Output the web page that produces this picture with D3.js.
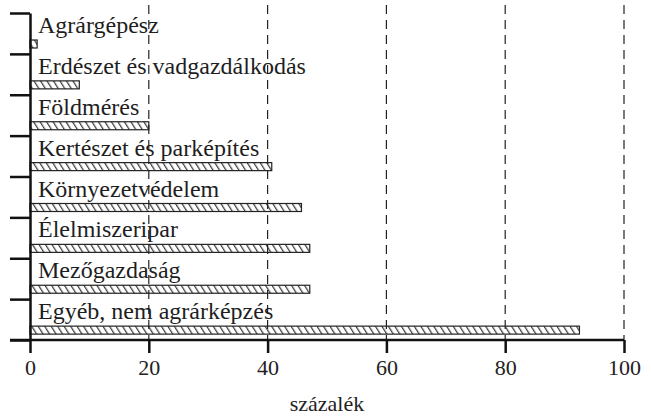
<!DOCTYPE html>
<html>
<head>
<meta charset="utf-8">
<script src="https://cdn.jsdelivr.net/npm/d3@7"></script>
<style>
  body { margin: 0; background: #fff; }
  .axis path, .axis line { stroke: #111; stroke-width: 2.5; }
</style>
</head>
<body>
<div id="chart"></div>
<script>
"use strict";

// Categories, top to bottom
const categories = ['Agrárgépész', 'Erdészet és vadgazdálkodás', 'Földmérés',
    'Kertészet és parképítés', 'Környezetvédelem', 'Élelmiszeripar',
    'Mezőgazdaság', 'Egyéb, nem agrárképzés'];
const values = [1.2, 8.3, 20, 40.7, 45.7, 47.1, 47.1, 92.5];  // százalék
const xTicks = [0, 20, 40, 60, 80, 100];
const xTitle = 'százalék';

const FONT = '"Liberation Serif", "Times New Roman", Times, "DejaVu Serif", serif';
const width = 651, height = 416;
const margin = {left: 30, right: 27, top: 13, bottom: 76};
const plotW = width - margin.left - margin.right;
const plotBottom = height - margin.bottom;

let svg = d3.select('#chart').append('svg')
    .attr('width', width)
    .attr('height', height)
    .style('display', 'block');

// Hatch pattern for the bars ("\\\\" lines)
svg.append('defs').append('pattern')
    .attr('id', 'hatch')
    .attr('patternUnits', 'userSpaceOnUse')
    .attr('width', 5.5)
    .attr('height', 10)
    .attr('patternTransform', 'rotate(-32)')
  .append('line')
    .attr('x1', 2.5).attr('y1', 0)
    .attr('x2', 2.5).attr('y2', 10)
    .attr('stroke', '#222')
    .attr('stroke-width', 1.1);

let x = d3.scaleLinear()
    .domain([0, 100])
    .range([margin.left, margin.left + plotW]);
let y = d3.scaleBand()
    .domain(categories)
    .range([margin.top, plotBottom])
    .paddingInner(0);
// Boundaries between bands, for the left tick marks
let yEdge = d3.scaleLinear()
    .domain([0, categories.length])
    .range([margin.top, plotBottom]);

// Dashed gridlines
svg.append('g').selectAll('line')
    .data(xTicks.filter(function (t) { return t > 0; }))
    .enter().append('line')
    .attr('x1', function (d) { return x(d); })
    .attr('x2', function (d) { return x(d); })
    .attr('y1', 5)
    .attr('y2', plotBottom)
    .attr('stroke', '#222')
    .attr('stroke-width', 1.2)
    .attr('stroke-dasharray', '9,6');

// Category labels above the bars
svg.append('g').selectAll('text')
    .data(categories)
    .enter().append('text')
    .attr('x', margin.left + 8)
    .attr('y', function (d) { return y(d) + 20; })
    .style('font-family', FONT)
    .style('font-size', '24px')
    .style('fill', '#1e1e1e')
    .text(function (d) { return d; });

// Bars
svg.append('g').selectAll('rect')
    .data(values)
    .enter().append('rect')
    .attr('x', x(0))
    .attr('y', function (d, i) { return y(categories[i]) + 27; })
    .attr('width', function (d) { return x(d) - x(0); })
    .attr('height', 8)
    .attr('fill', 'url(#hatch)')
    .attr('stroke', '#222')
    .attr('stroke-width', 1.2);

// Y axis with ticks at band edges
let yAxis = d3.axisLeft(yEdge)
    .tickValues(d3.range(categories.length + 1))
    .tickSize(20)
    .tickSizeOuter(0)
    .tickFormat('');
svg.append('g')
    .classed('axis', true)
    .attr('transform', 'translate(' + margin.left + ',0)')
    .call(yAxis);

// X axis
let xAxis = d3.axisBottom(x)
    .tickValues(xTicks)
    .tickSize(13)
    .tickSizeOuter(0)
    .tickPadding(6);
let xg = svg.append('g')
    .classed('axis', true)
    .attr('transform', 'translate(0,' + plotBottom + ')')
    .call(xAxis);
xg.select('.domain').attr('d', 'M' + (margin.left - 20) + ',0H' + x(100));
xg.selectAll('text')
    .style('font-family', FONT)
    .style('font-size', '22px')
    .style('fill', '#222');

svg.append('text')
    .attr('x', margin.left + plotW / 2)
    .attr('y', 411)
    .style('text-anchor', 'middle')
    .style('font-family', FONT)
    .style('font-size', '22px')
    .style('fill', '#222')
    .text(xTitle);
</script>
</body>
</html>
